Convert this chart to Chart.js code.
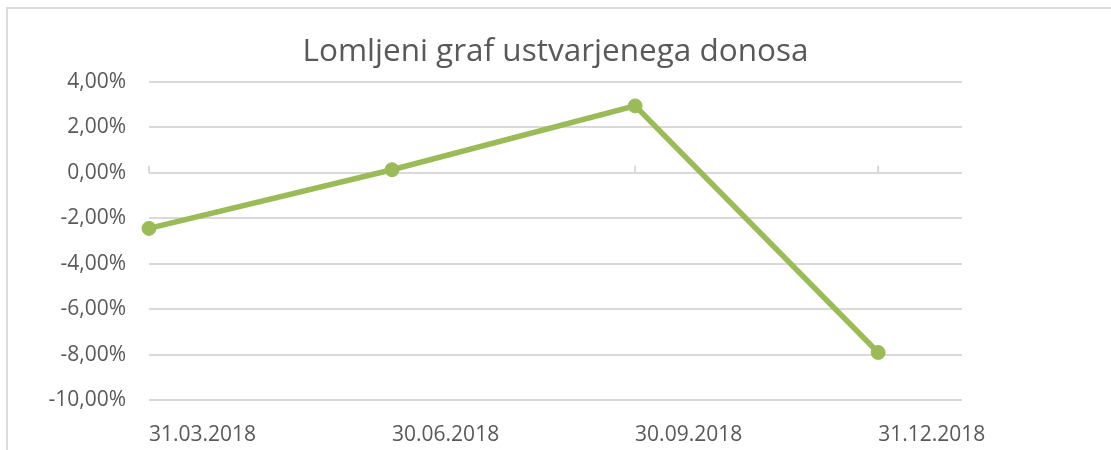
<!DOCTYPE html>
<html>
<head>
<meta charset="utf-8">
<script src="https://cdn.jsdelivr.net/npm/chart.js"></script>
<style>
  html, body { margin: 0; padding: 0; background: #fff; overflow: hidden; }
  #wrap { position: relative; width: 1111px; height: 450px; }
  #frame { position: absolute; left: 6px; top: 7px; width: 1200px; height: 600px;
           border: 2px solid #dcdcdc; pointer-events: none; }
</style>
</head>
<body>
<div id="wrap">
  <div id="frame"></div>
  <canvas id="myChart"></canvas>
</div>
<script>
// podatki
const categories = ["31.03.2018", "30.06.2018", "30.09.2018", "31.12.2018"];
const returns = [-2.45, 0.13, 2.94, -7.91]; // v %
const yTicks = [4, 2, 0, -2, -4, -6, -8, -10];

const grey = "#595959";
const green = "#9BBB59";

// majhne oznake na osi 0
const zeroTicks = {
  id: "zeroTicks",
  beforeDatasetsDraw(chart) {
    const { ctx, scales: { x, y } } = chart;
    const y0 = y.getPixelForValue(0);
    ctx.save();
    ctx.strokeStyle = "#d9d9d9";
    ctx.lineWidth = 2;
    categories.forEach((c, i) => {
      const px = x.getPixelForValue(i);
      ctx.beginPath();
      ctx.moveTo(px, y0);
      ctx.lineTo(px, y0 - 7);
      ctx.stroke();
    });
    ctx.restore();
  }
};

new Chart(document.getElementById("myChart"), {
  type: "line",
  data: {
    datasets: [{
      label: "Donos",
      data: returns.map((v, i) => ({ x: i, y: v })),
      borderColor: green,
      backgroundColor: green,
      borderWidth: 5.5,
      pointRadius: 7,
      pointBackgroundColor: green,
      pointBorderColor: green,
      pointBorderWidth: 1,
      tension: 0,
      clip: false
    }]
  },
  options: {
    responsive: true,
    maintainAspectRatio: false,
    animation: false,
    layout: { padding: 0 },
    plugins: {
      legend: { display: false },
      tooltip: { enabled: false },
      title: {
        display: true,
        text: "Lomljeni graf ustvarjenega donosa",
        color: grey,
        font: { family: "'Open Sans'", size: 31.5, weight: "normal" },
        padding: { top: 33, bottom: 11 }
      }
    },
    scales: {
      x: {
        type: "linear",
        min: 0,
        max: 3.345,
        afterBuildTicks: (scale) => { scale.ticks = categories.map((_, i) => ({ value: i })); },
        afterFit: (scale) => { scale.height = 50; },
        grid: { display: false },
        border: { display: false },
        ticks: {
          align: "start",
          autoSkip: false,
          maxRotation: 0,
          padding: 14,
          color: grey,
          font: { family: "'Open Sans'", size: 21 },
          callback: (v) => categories[v] ?? ""
        }
      },
      y: {
        min: -10,
        max: 4,
        afterBuildTicks: (scale) => { scale.ticks = yTicks.map(v => ({ value: v })); },
        afterFit: (scale) => { scale.width = 149; },
        grid: { color: "#d9d9d9", lineWidth: 2, drawTicks: false },
        border: { display: false },
        ticks: {
          padding: 23,
          color: grey,
          font: { family: "'Open Sans'", size: 21 },
          callback: (v) => v.toFixed(2).replace(".", ",") + "%"
        }
      },
      // prazen prostor desno od grafa
      yRight: {
        position: "right",
        min: -10,
        max: 4,
        afterFit: (scale) => { scale.width = 149; },
        grid: { drawOnChartArea: false, drawTicks: false },
        border: { display: false },
        ticks: { display: false }
      }
    }
  },
  plugins: [zeroTicks]
});
</script>
</body>
</html>
